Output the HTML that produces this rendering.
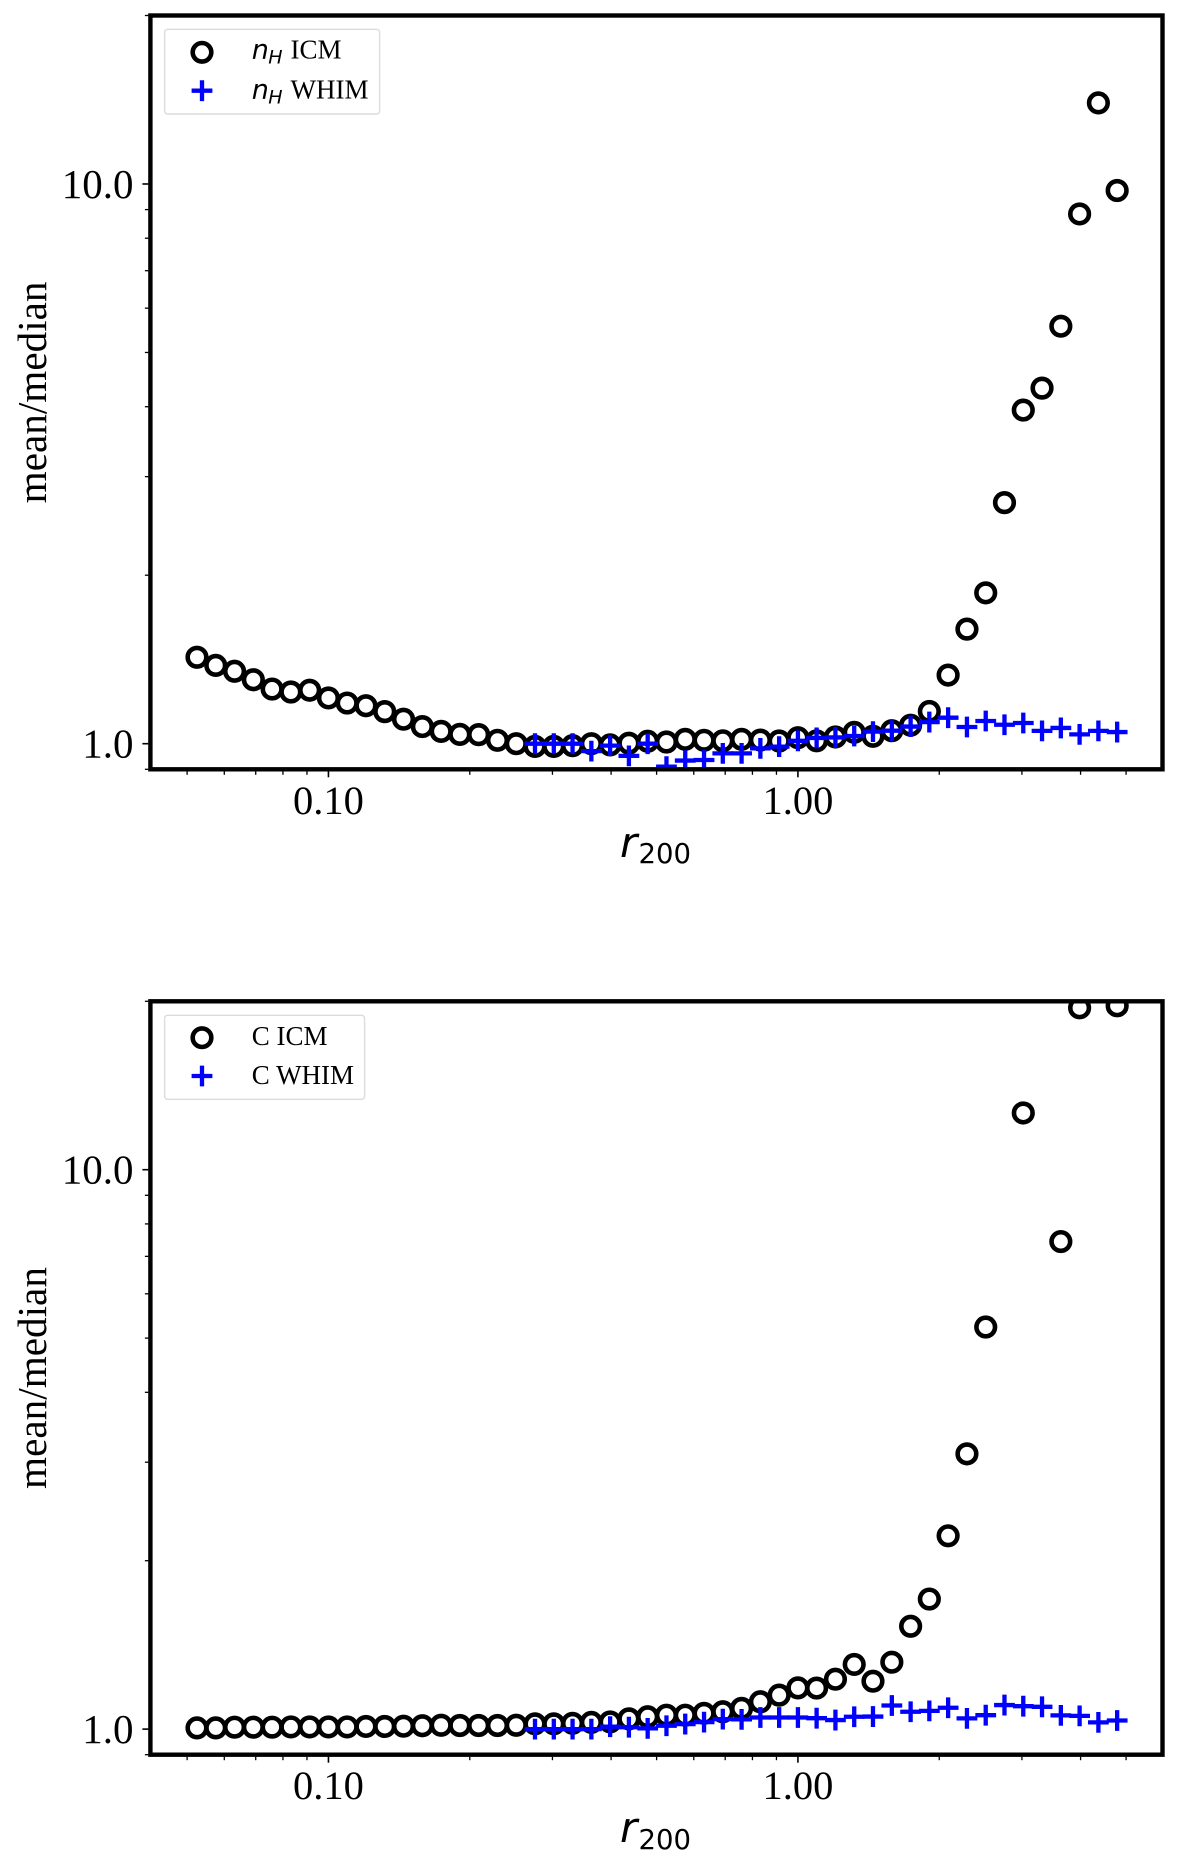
<!DOCTYPE html>
<html lang="en">
<head>
<meta charset="utf-8">
<title>mean/median profiles</title>
<style>
  html, body { margin: 0; padding: 0; background: #fff; }
  svg { display: block; }
  text { fill: #000; }
  .serif { font-family: "Liberation Serif", serif; }
  .math { font-family: "DejaVu Sans", sans-serif; font-style: italic; }
  .mathsub { font-family: "DejaVu Sans", sans-serif; }
</style>
</head>
<body>
<svg id="chart" xmlns="http://www.w3.org/2000/svg" width="1200" height="1863" viewBox="0 0 1200 1863">
  <rect x="0" y="0" width="1200" height="1863" fill="#fff"/>
</svg>
<script>
const radii = [0.05248,0.05754,0.06310,0.06918,0.07586,0.08318,0.09120,0.1000,0.1096,0.1202,0.1318,0.1445,0.1585,0.1738,0.1905,0.2089,0.2291,0.2512,0.2754,0.3020,0.3311,0.3631,0.3981,0.4365,0.4786,0.5248,0.5754,0.6310,0.6918,0.7586,0.8318,0.9120,1.000,1.096,1.202,1.318,1.445,1.585,1.738,1.905,2.089,2.291,2.512,2.754,3.020,3.311,3.631,3.981,4.365,4.786];

const nhIcm = [1.427,1.380,1.347,1.301,1.252,1.237,1.246,1.207,1.182,1.169,1.141,1.106,1.073,1.052,1.039,1.038,1.014,1.000,0.989,0.989,0.992,1.000,0.995,1.002,1.010,1.007,1.018,1.014,1.012,1.018,1.015,1.011,1.025,1.012,1.028,1.048,1.031,1.055,1.079,1.142,1.326,1.602,1.860,2.696,3.945,4.318,5.571,8.84,13.96,9.736];

const nhWhim = [null,null,null,null,null,null,null,null,null,null,null,null,null,null,null,null,null,null,1.000,1.000,1.000,0.970,0.992,0.951,1.000,0.910,0.933,0.935,0.961,0.961,0.981,0.988,1.012,1.024,1.026,1.032,1.051,1.055,1.073,1.093,1.113,1.071,1.098,1.081,1.089,1.054,1.067,1.039,1.054,1.049];

const cIcm = [1.005,1.005,1.008,1.008,1.008,1.009,1.009,1.009,1.009,1.011,1.011,1.012,1.014,1.016,1.015,1.015,1.015,1.016,1.022,1.022,1.024,1.028,1.030,1.043,1.052,1.059,1.059,1.067,1.074,1.089,1.119,1.150,1.185,1.184,1.228,1.305,1.218,1.317,1.527,1.708,2.216,3.105,5.233,null,12.63,null,7.44,19.47,null,19.63];

const cWhim = [null,null,null,null,null,null,null,null,null,null,null,null,null,null,null,null,null,null,1.000,1.000,1.000,1.000,1.010,1.008,1.003,1.014,1.021,1.029,1.042,1.041,1.049,1.049,1.049,1.046,1.038,1.052,1.053,1.102,1.074,1.078,1.092,1.045,1.059,1.104,1.099,1.096,1.058,1.056,1.028,1.036];

const xMajorTicks = [0.1, 1];
const xMajorLabels = ["0.10", "1.00"];
const xMinorTicks = [0.05,0.06,0.07,0.08,0.09,0.2,0.3,0.4,0.5,0.6,0.7,0.8,0.9,2,3,4,5];
const yMajorTicks = [1, 10];
const yMajorLabels = ["1.0", "10.0"];
const yMinorTicks = [0.9,2,3,4,5,6,7,8,9,20];

const xMin = 0.04176, xMax = 5.978;
const yMin = 0.9, yMax = 20;
const plotLeft = 150.4, plotRight = 1162.5;
const NS = "http://www.w3.org/2000/svg";
const root = document.getElementById("chart");

function make(tag, attrs, parent) {
  const el = document.createElementNS(NS, tag);
  for (const k in attrs) el.setAttribute(k, attrs[k]);
  parent.appendChild(el);
  return el;
}
function xScale(v) {
  return plotLeft + (Math.log10(v) - Math.log10(xMin)) / (Math.log10(xMax) - Math.log10(xMin)) * (plotRight - plotLeft);
}
function yScale(v, top, bottom) {
  return bottom - (Math.log10(v) - Math.log10(yMin)) / (Math.log10(yMax) - Math.log10(yMin)) * (bottom - top);
}

function drawPanel(id, top, bottom, icm, whim, rBaseline, subBaseline) {
  const panel = make("g", {}, root);
  
  

  const clip = make("clipPath", { id: id + "-clip" }, panel);
  make("rect", { x: plotLeft, y: top, width: plotRight - plotLeft, height: bottom - top }, clip);

  const marks = make("g", { "clip-path": "url(#" + id + "-clip)" }, panel);
  
  

  radii.forEach(function (r, i) {
    if (icm[i] === null) return;
    const c = make("circle", { cx: xScale(r), cy: yScale(icm[i], top, bottom), r: 9.3, fill: "none", stroke: "#000", "stroke-width": 4.6 }, marks);
    
    
  });
  radii.forEach(function (r, i) {
    if (whim[i] === null) return;
    const px = xScale(r), py = yScale(whim[i], top, bottom);
    const p = make("path", { d: "M" + (px - 10.4) + " " + py + "H" + (px + 10.4) + "M" + px + " " + (py - 10.4) + "V" + (py + 10.4), fill: "none", stroke: "#0000ff", "stroke-width": 4.3 }, marks);
    
    
  });

  const frame = make("rect", { x: plotLeft, y: top, width: plotRight - plotLeft, height: bottom - top, fill: "none", stroke: "#000", "stroke-width": 4.4 }, panel);
  
  

  xMinorTicks.forEach(function (v) {
    const px = xScale(v);
    const t = make("line", { x1: px, x2: px, y1: bottom + 2, y2: bottom + 5.5, stroke: "#000", "stroke-width": 1.3 }, panel);
    
    
  });
  xMajorTicks.forEach(function (v, i) {
    const px = xScale(v);
    const t = make("line", { x1: px, x2: px, y1: bottom + 2, y2: bottom + 8, stroke: "#000", "stroke-width": 1.6 }, panel);
    
    
    const l = make("text", { x: px, y: bottom + 44.5, "text-anchor": "middle", class: "serif", "font-size": 40.5 }, panel);
    l.textContent = xMajorLabels[i];
    
    
  });
  yMinorTicks.forEach(function (v) {
    const py = yScale(v, top, bottom);
    const t = make("line", { x1: plotLeft - 2, x2: plotLeft - 5.5, y1: py, y2: py, stroke: "#000", "stroke-width": 1.3 }, panel);
    
    
  });
  yMajorTicks.forEach(function (v, i) {
    const py = yScale(v, top, bottom);
    const t = make("line", { x1: plotLeft - 2, x2: plotLeft - 8, y1: py, y2: py, stroke: "#000", "stroke-width": 1.6 }, panel);
    
    
    const l = make("text", { x: 133.5, y: py + 14, "text-anchor": "end", class: "serif", "font-size": 41 }, panel);
    l.textContent = yMajorLabels[i];
    
    
  });

  const cy = (top + bottom) / 2;
  const yt = make("text", { x: 46, y: cy, transform: "rotate(-90 46 " + cy + ")", "text-anchor": "middle", class: "serif", "font-size": 41.2 }, panel);
  yt.textContent = "mean/median";
  
  

  const xt = make("g", {}, panel);
  
  
  const rt = make("text", { x: 620, y: rBaseline, class: "math", "font-size": 42 }, xt);
  rt.textContent = "r";
  const st = make("text", { x: 638.5, y: subBaseline, class: "mathsub", "font-size": 27.5 }, xt);
  st.textContent = "200";
}

function drawLegend(id, boxTop, boxWidth, boxHeight, circleY, plusY, line1Base, line2Base, labels, mathPrefix) {
  const g = make("g", {}, root);
  
  
  make("rect", { x: 164.6, y: boxTop, width: boxWidth, height: boxHeight, rx: 3, ry: 3, fill: "#fff", stroke: "#dcdcdc", "stroke-width": 1.4 }, g);

  const c = make("circle", { cx: 202, cy: circleY, r: 9.3, fill: "none", stroke: "#000", "stroke-width": 4.6 }, g);
  
  
  const p = make("path", { d: "M191.6 " + plusY + "H212.4M202 " + (plusY - 10.4) + "V" + (plusY + 10.4), fill: "none", stroke: "#0000ff", "stroke-width": 4.3 }, g);
  
  

  [line1Base, line2Base].forEach(function (base, i) {
    const e = make("g", {}, g);
    
    
    let tx = 251.8;
    if (mathPrefix) {
      const n = make("text", { x: tx, y: base, class: "math", "font-size": 27 }, e);
      n.textContent = "n";
      const h = make("text", { x: tx + 16.5, y: base + 5, class: "math", "font-size": 19 }, e);
      h.textContent = "H";
      tx = 290.5;
    }
    const t = make("text", { x: tx, y: base, class: "serif", "font-size": 27 }, e);
    t.textContent = labels[i];
  });
}

drawPanel("density", 15.5, 769.3, nhIcm, nhWhim, 857, 863);
drawPanel("carbon", 1001.3, 1754.7, cIcm, cWhim, 1842, 1849);
drawLegend("density", 29.3, 215, 84.7, 52.3, 90.7, 58.3, 98.3, ["ICM", "WHIM"], true);
drawLegend("carbon", 1015.3, 200, 84, 1037.7, 1076, 1045, 1084, ["C ICM", "C WHIM"], false);
</script>
</body>
</html>
